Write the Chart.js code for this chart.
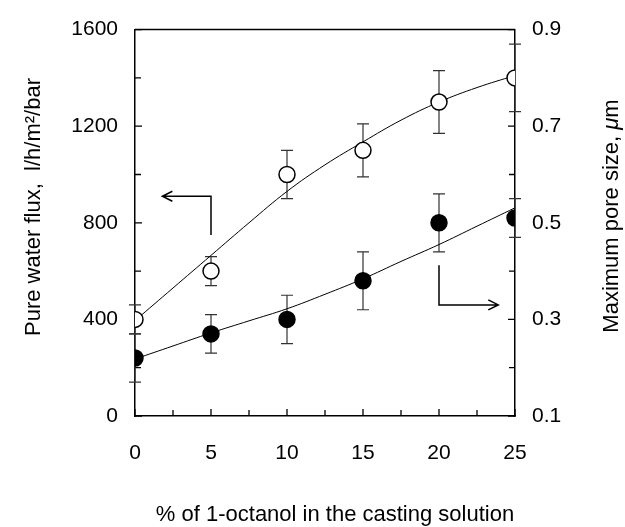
<!DOCTYPE html>
<html>
<head>
<meta charset="utf-8">
<script src="https://cdn.jsdelivr.net/npm/chart.js@4.4.1/dist/chart.umd.min.js"></script>
<style>
html,body{margin:0;padding:0;background:#fff;}
#wrap{width:625px;height:527px;position:relative;}
</style>
</head>
<body>
<div id="wrap"><canvas id="c"></canvas></div>
<script>
// ---- data ----
const xValues = [0, 5, 10, 15, 20, 25];
const fluxValues = [400, 600, 1000, 1100, 1300, 1400];
const fluxErrors = [60, 60, 100, 110, 130, 140];
const poreValues = [0.22, 0.27, 0.30, 0.38, 0.50, 0.51];
const poreErrors = [0.05, 0.04, 0.05, 0.06, 0.06, 0.04];
const fitX = [0, 2.5, 5, 7.5, 10, 12.5, 15, 17.5, 20, 22.5, 25];
const fluxFit = [395, 530, 665, 800, 930, 1040, 1135, 1225, 1300, 1360, 1410];
const poreFit = [0.218, 0.245, 0.272, 0.297, 0.322, 0.352, 0.384, 0.42, 0.455, 0.493, 0.531];
const xTickLabels = [0, 5, 10, 15, 20, 25];
const fluxTickLabels = [0, 400, 800, 1200, 1600];
const poreTickLabels = [0.1, 0.3, 0.5, 0.7, 0.9];
const xTitle = "% of 1-octanol in the casting solution";
const yTitle = "Pure water flux,  l/h/m\u00B2/bar";
const y1TitleA = "Maximum pore size, ";
const y1TitleMu = "\u03BC";
const y1TitleB = "m";
// arrow annotations (data coordinates)
const leftArrow = {axis: 'y', x: 5, yFrom: 750, yTo: 910, xTo: 1.8};
const rightArrow = {axis: 'y1', x: 20, yFrom: 0.412, yTo: 0.33, xTo: 23.9};

const FONT = '"Liberation Sans", Arial, sans-serif';
const TICK_SIZE = 21;
const TITLE_SIZE = 22;

const pts = (xs, ys) => xs.map((x, i) => ({x: x, y: ys[i]}));

const frameAndTicks = {
  id: 'frameAndTicks',
  beforeDatasetsDraw(chart) {
    const ctx = chart.ctx, a = chart.chartArea;
    const sx = chart.scales.x, sy = chart.scales.y, sy1 = chart.scales.y1;
    ctx.save();
    ctx.strokeStyle = '#000';
    ctx.lineWidth = 1.5;
    ctx.beginPath();
    ctx.moveTo(a.left, a.top); ctx.lineTo(a.right, a.top);
    ctx.stroke();
    ctx.lineWidth = 1.3;
    ctx.beginPath();
    for (let v = 0; v <= 25.001; v += 2.5) {
      const p = sx.getPixelForValue(v);
      const len = (Math.abs(v % 5) < 0.01) ? 7 : 6;
      ctx.moveTo(p, a.bottom); ctx.lineTo(p, a.bottom - len);
    }
    for (let v = 0; v <= 1600; v += 200) {
      const p = sy.getPixelForValue(v);
      const len = (v % 400 === 0) ? 7 : 6;
      ctx.moveTo(a.left, p); ctx.lineTo(a.left + len, p);
    }
    for (let k = 0; k <= 8; k++) {
      const v = 0.1 + k * 0.1;
      const p = sy1.getPixelForValue(v);
      const len = (k % 2 === 0) ? 7 : 6;
      ctx.moveTo(a.right, p); ctx.lineTo(a.right - len, p);
    }
    ctx.stroke();

    // error bars
    ctx.lineWidth = 1.2;
    ctx.strokeStyle = '#333';
    const cap = 6;
    const drawErr = (scale, vals, errs) => {
      ctx.beginPath();
      xValues.forEach((x, i) => {
        const px = sx.getPixelForValue(x);
        const hi = scale.getPixelForValue(vals[i] + errs[i]);
        const lo = scale.getPixelForValue(vals[i] - errs[i]);
        ctx.moveTo(px, hi); ctx.lineTo(px, lo);
        ctx.moveTo(px - cap, hi); ctx.lineTo(px + cap, hi);
        ctx.moveTo(px - cap, lo); ctx.lineTo(px + cap, lo);
      });
      ctx.stroke();
    };
    drawErr(sy, fluxValues, fluxErrors);
    drawErr(sy1, poreValues, poreErrors);

    // arrows
    ctx.strokeStyle = '#000';
    ctx.lineWidth = 1.5;
    const drawArrow = (ar) => {
      const s = chart.scales[ar.axis];
      const x0 = sx.getPixelForValue(ar.x);
      const y0 = s.getPixelForValue(ar.yFrom);
      const y1 = s.getPixelForValue(ar.yTo);
      const x1 = sx.getPixelForValue(ar.xTo);
      const dir = x1 > x0 ? 1 : -1;
      ctx.beginPath();
      ctx.moveTo(x0, y0); ctx.lineTo(x0, y1); ctx.lineTo(x1, y1);
      ctx.moveTo(x1 - dir * 10, y1 - 5); ctx.lineTo(x1, y1); ctx.lineTo(x1 - dir * 10, y1 + 5);
      ctx.stroke();
    };
    drawArrow(leftArrow);
    drawArrow(rightArrow);
    ctx.restore();
  },
  afterDraw(chart) {
    const ctx = chart.ctx;
    ctx.save();
    ctx.fillStyle = '#000';
    ctx.textBaseline = 'middle';
    ctx.textAlign = 'center';
    const fN = TITLE_SIZE + 'px ' + FONT, fI = 'italic ' + TITLE_SIZE + 'px ' + FONT;
    ctx.font = fN;
    ctx.fillText(xTitle, 335, 515);
    ctx.save();
    ctx.translate(34, 207);
    ctx.rotate(-Math.PI / 2);
    ctx.fillText(yTitle, 0, 0);
    ctx.restore();
    ctx.save();
    ctx.translate(612, 216);
    ctx.rotate(-Math.PI / 2);
    ctx.textAlign = 'left';
    ctx.font = fN; const wA = ctx.measureText(y1TitleA).width; const wB = ctx.measureText(y1TitleB).width;
    ctx.font = fI; const wM = ctx.measureText(y1TitleMu).width;
    let x = -(wA + wM + wB) / 2;
    ctx.font = fN; ctx.fillText(y1TitleA, x, 0); x += wA;
    ctx.font = fI; ctx.fillText(y1TitleMu, x, 0); x += wM;
    ctx.font = fN; ctx.fillText(y1TitleB, x, 0);
    ctx.restore();
    ctx.restore();
  }
};

const chart = new Chart(document.getElementById('c'), {
  type: 'line',
  data: {
    datasets: [
      {label: 'Flux', data: pts(xValues, fluxValues), yAxisID: 'y', showLine: false,
        pointStyle: 'circle', pointRadius: 8, pointBackgroundColor: '#fff', pointBorderColor: '#000', pointBorderWidth: 1.5},
      {label: 'Pore', data: pts(xValues, poreValues), yAxisID: 'y1', showLine: false,
        pointStyle: 'circle', pointRadius: 8, pointBackgroundColor: '#000', pointBorderColor: '#000', pointBorderWidth: 1.5},
      {label: 'Flux fit', data: pts(fitX, fluxFit), yAxisID: 'y', pointRadius: 0,
        borderColor: '#000', borderWidth: 1, tension: 0.4, fill: false},
      {label: 'Pore fit', data: pts(fitX, poreFit), yAxisID: 'y1', pointRadius: 0,
        borderColor: '#000', borderWidth: 1, tension: 0.4, fill: false}
    ]
  },
  options: {
    responsive: true,
    maintainAspectRatio: false,
    animation: false,
    events: [],
    layout: {padding: {top: 24, left: 0, right: 0, bottom: 0}},
    plugins: {legend: {display: false}, tooltip: {enabled: false}},
    scales: {
      x: {
        type: 'linear', min: 0, max: 25,
        afterBuildTicks: (s) => { s.ticks = xTickLabels.map(v => ({value: v})); },
        afterFit: (s) => { s.height = 111; },
        grid: {display: false, drawTicks: false},
        border: {display: true, color: '#000', width: 1.5},
        ticks: {color: '#000', font: {family: FONT, size: TICK_SIZE}, padding: 25, maxRotation: 0,
          callback: (v) => String(v)}
      },
      y: {
        type: 'linear', position: 'left', min: 0, max: 1600,
        afterBuildTicks: (s) => { s.ticks = fluxTickLabels.map(v => ({value: v})); },
        afterFit: (s) => { s.width = 135; },
        grid: {display: false, drawTicks: false},
        border: {display: true, color: '#000', width: 1.5},
        ticks: {color: '#000', font: {family: FONT, size: TICK_SIZE}, padding: 17,
          callback: (v) => String(v)}
      },
      y1: {
        type: 'linear', position: 'right', min: 0.1, max: 0.9,
        afterBuildTicks: (s) => { s.ticks = poreTickLabels.map(v => ({value: v})); },
        afterFit: (s) => { s.width = 110; },
        grid: {display: false, drawTicks: false},
        border: {display: true, color: '#000', width: 1.5},
        ticks: {color: '#000', font: {family: FONT, size: TICK_SIZE}, padding: 17,
          callback: (v) => Number(v).toFixed(1)}
      }
    }
  },
  plugins: [frameAndTicks]
});
</script>
</body>
</html>
